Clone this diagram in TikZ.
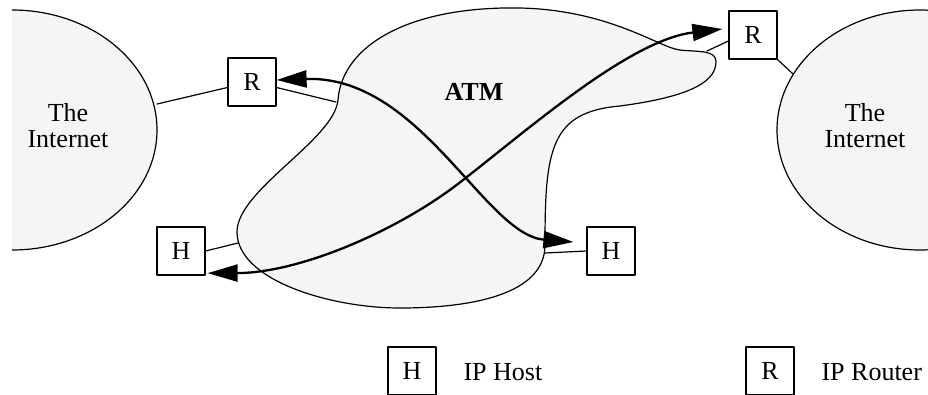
\documentclass[tikz,border=0pt]{standalone}
\usepackage{fontspec}
\setmainfont{Liberation Serif}
\usetikzlibrary{arrows.meta}
\definecolor{cloudgray}{HTML}{F5F5F5}
\begin{document}
\begin{tikzpicture}[x=1pt, y=-1pt, line join=round, line cap=round,
	font=\fontsize{26}{26}\selectfont,
	box/.style={draw, fill=white, line width=1.2pt, minimum size=48pt, inner sep=0pt},
	wire/.style={line width=1.2pt},
	flow/.style={line width=2.3pt, {Triangle[length=30pt,width=17pt]}-{Triangle[length=30pt,width=17pt]}}]
	\useasboundingbox (0,0) rectangle (928,394);
	% the two internets
	\begin{scope}
		\clip (12,-5) rectangle (940,400);
		\draw[wire, fill=cloudgray] (12,130) ellipse [x radius=145, y radius=120];
		\draw[wire, fill=cloudgray] (920,130) ellipse [x radius=143, y radius=120];
	\end{scope}
	\node[align=center] (netL) at (68,126) {The\\Internet};
	\node[align=center] (netR) at (865,126) {The\\Internet};
	% the ATM cloud
	\draw[wire, fill=cloudgray] (520,8) .. controls (410,6) and (342,45) .. (338,100)
		.. controls (334,140) and (237,190) .. (237,232)
		.. controls (237,280) and (330,308) .. (400,308)
		.. controls (470,308) and (545,295) .. (545,245)
		.. controls (545,150) and (550,112) .. (620,106)
		.. controls (680,98) and (716,85) .. (716,62)
		.. controls (716,50) and (700,52) .. (680,50)
		.. controls (660,48) and (610,10) .. (520,8) -- cycle;
	\node[font=\fontsize{26}{26}\selectfont\bfseries] (atm) at (474,92) {ATM};
	\coordinate (netLp) at (157,104);
	\coordinate (netRp) at (793,74);
	\coordinate (atmA) at (336,102);
	\coordinate (atmB) at (238,243);
	\coordinate (atmC) at (545,253);
	\coordinate (atmD) at (707,51);
	% hosts and routers
	\node[box] (Rl) at (252,82) {R};
	\node[box] (Hl) at (181,251) {H};
	\node[box] (Rr) at (753,35) {R};
	\node[box] (Hr) at (611,251) {H};
	\draw[wire] (netLp) -- ([yshift=-5.5pt]Rl.west);
	\draw[wire] ([yshift=-5.5pt]Rl.east) -- (atmA);
	\draw[wire] (Hl.east) -- (atmB);
	\draw[wire] (Hr.west) -- (atmC);
	\draw[wire] ([yshift=-6pt]Rr.west) -- (atmD);
	\draw[wire] (Rr.south east) -- (netRp);
	% the two flows
	\draw[flow] ([yshift=2pt]Rl.east) .. controls (420,75) and (485,235) .. ([xshift=-13pt,yshift=9pt]Hr.west);
	\draw[flow] ([xshift=2pt,yshift=2.5pt]Hl.south east) .. controls (300,273) and (400,230) .. (463,180) .. controls (530,128) and (630,40) .. ([xshift=-6pt,yshift=6pt]Rr.west);
	% legend
	\node[box] (legH) at (412,371) {H};
	\node[box] (legR) at (770,371) {R};
	\node[anchor=base west] (hostTxt) at (460,380) {IP Host};
	\node[anchor=base west] (routerTxt) at (818,380) {IP Router};
\end{tikzpicture}
\end{document}
